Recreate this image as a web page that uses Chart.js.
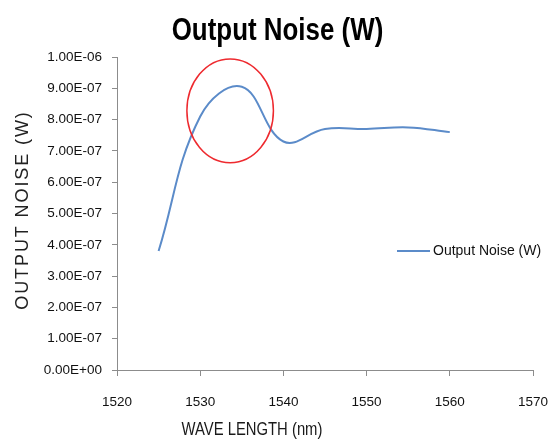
<!DOCTYPE html>
<html>
<head>
<meta charset="utf-8">
<script src="https://cdn.jsdelivr.net/npm/chart.js"></script>
<style>
  html, body { margin: 0; padding: 0; background: #fff; }
</style>
</head>
<body>
<canvas id="chart" width="557" height="443"></canvas>
<script>
// values
const wavelengths = [1525, 1530, 1535, 1540, 1545, 1550, 1555, 1560];
const outputNoise = [3.8e-7, 8.1e-7, 9.05e-7, 7.3e-7, 7.7e-7, 7.7e-7, 7.75e-7, 7.6e-7];
const xTickValues = [1520, 1530, 1540, 1550, 1560, 1570];
const yTickValues = [0, 1e-7, 2e-7, 3e-7, 4e-7, 5e-7, 6e-7, 7e-7, 8e-7, 9e-7, 1e-6];
const seriesLabel = "Output Noise (W)";
const chartTitle = "Output Noise (W)";
const xTitle = "WAVE LENGTH (nm)";
const yTitle = "OUTPUT NOISE (W)";

// red ring drawn round the peak, in data units
const ringCenter = [1533.6, 8.28e-7];
const ringRadius = [5.2, 1.66e-7];

const lineColor = "#5b8bc9";
const axisColor = "#8c8c8c";
const font = "'Liberation Sans', Arial, sans-serif";

// 1.00E-06 style, two digit exponent like Excel
function sci(v) {
    const [m, e] = Number(v).toExponential(2).split("e");
    const sign = e[0] === "-" ? "-" : "+";
    return m + "E" + sign + e.replace(/[+-]/, "").padStart(2, "0");
}

// Calibri is narrow, so squeeze Liberation Sans sideways
function narrowText(ctx, text, x, y, squeeze) {
    ctx.save();
    ctx.translate(x, y);
    ctx.scale(squeeze, 1);
    ctx.fillText(text, 0, 0);
    ctx.restore();
}

const overlay = {
    id: "overlay",
    afterDatasetsDraw(chart) {
        const { ctx, scales: { x, y } } = chart;
        const cx = x.getPixelForValue(ringCenter[0]);
        const cy = y.getPixelForValue(ringCenter[1]);
        const rx = x.getPixelForValue(ringCenter[0] + ringRadius[0]) - cx;
        const ry = cy - y.getPixelForValue(ringCenter[1] + ringRadius[1]);
        ctx.save();
        ctx.strokeStyle = "#ee2a2f";
        ctx.lineWidth = 1.5;
        ctx.beginPath();
        ctx.ellipse(cx, cy, rx, ry, 0, 0, Math.PI * 2);
        ctx.stroke();
        ctx.restore();
    },
    afterDraw(chart) {
        const { ctx, chartArea } = chart;
        ctx.save();
        // chart title
        ctx.fillStyle = "#000";
        ctx.textAlign = "center";
        ctx.textBaseline = "alphabetic";
        ctx.font = "bold 32px " + font;
        narrowText(ctx, chartTitle, chart.width / 2 - 1, 40, 0.81);
        // legend, sits inside the plot on the right like in Excel
        const ly = chartArea.top + 194;
        const lx = chartArea.right - 136;
        ctx.strokeStyle = lineColor;
        ctx.lineWidth = 2;
        ctx.beginPath();
        ctx.moveTo(lx, ly);
        ctx.lineTo(lx + 33, ly);
        ctx.stroke();
        ctx.fillStyle = "#111";
        ctx.font = "14px " + font;
        ctx.textBaseline = "middle";
        ctx.textAlign = "left";
        ctx.fillText(seriesLabel, lx + 36, ly);
        // x axis title, Excel put it left of centre
        ctx.font = "19px " + font;
        ctx.textAlign = "center";
        ctx.textBaseline = "alphabetic";
        ctx.fillStyle = "#1a1a1a";
        narrowText(ctx, xTitle, chartArea.left + 135, 435, 0.78);
        // y axis title, thin and spaced out
        ctx.save();
        ctx.translate(23, chartArea.top + 153);
        ctx.rotate(-Math.PI / 2);
        ctx.font = "18px " + font;
        ctx.letterSpacing = "1.9px";
        ctx.textBaseline = "middle";
        ctx.fillStyle = "#222";
        ctx.fillText(yTitle, 0, 0);
        ctx.restore();
        ctx.restore();
    }
};

new Chart(document.getElementById("chart"), {
    type: "line",
    data: {
        datasets: [{
            label: seriesLabel,
            data: wavelengths.map((w, i) => ({ x: w, y: outputNoise[i] })),
            borderColor: lineColor,
            backgroundColor: lineColor,
            borderWidth: 2,
            pointRadius: 0,
            tension: 0.4,
            fill: false
        }]
    },
    options: {
        responsive: false,
        animation: false,
        devicePixelRatio: 1,
        layout: { padding: { left: 0, right: 24, top: 57, bottom: 0 } },
        plugins: {
            legend: { display: false },
            tooltip: { enabled: false },
            title: { display: false }
        },
        scales: {
            x: {
                type: "linear",
                min: 1520,
                max: 1570,
                afterBuildTicks: s => { s.ticks = xTickValues.map(v => ({ value: v })); },
                afterFit: s => { s.height = 73; s.paddingLeft = 0; s.paddingRight = 0; },
                grid: { drawOnChartArea: false, drawTicks: true, tickLength: 6, color: axisColor },
                border: { display: true, color: axisColor, width: 1 },
                ticks: { color: "#111", font: { family: font, size: 13.5 }, padding: 18, maxRotation: 0, callback: v => String(v) }
            },
            y: {
                type: "linear",
                min: 0,
                max: 1e-6,
                afterBuildTicks: s => { s.ticks = yTickValues.map(v => ({ value: v })); },
                afterFit: s => { s.width = 117; },
                grid: { drawOnChartArea: false, drawTicks: true, tickLength: 5, color: axisColor },
                border: { display: true, color: axisColor, width: 1 },
                ticks: { color: "#111", font: { family: font, size: 13.5 }, padding: 10, callback: v => sci(v) }
            }
        }
    },
    plugins: [overlay]
});
</script>
</body>
</html>
